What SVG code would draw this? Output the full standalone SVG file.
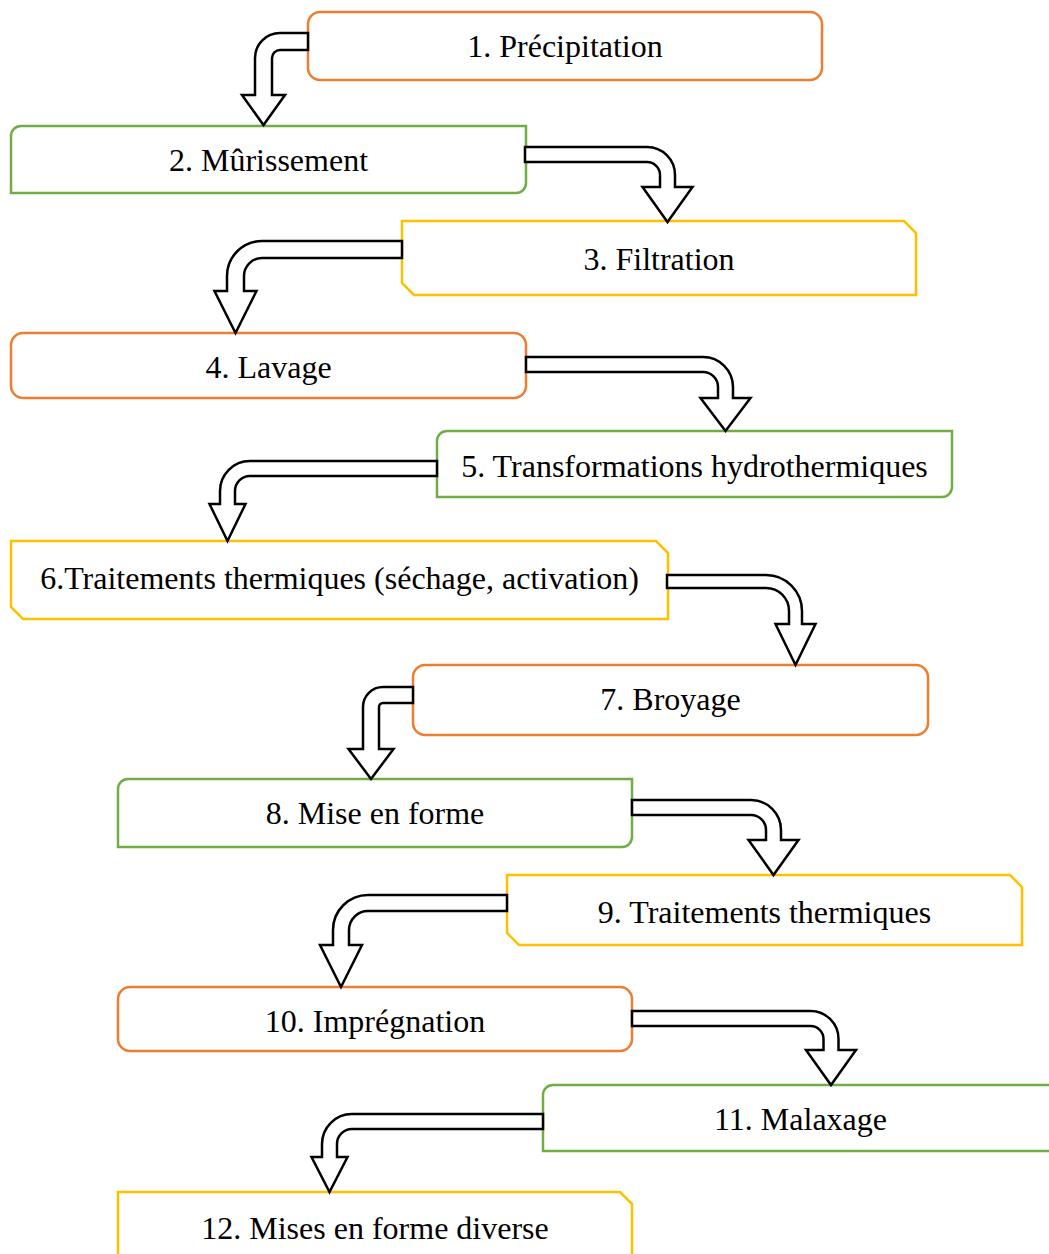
<svg xmlns="http://www.w3.org/2000/svg" width="1049" height="1254" viewBox="0 0 1049 1254">
<style>
.o{fill:#fff;stroke:#ED7D31;stroke-width:2.5}
.g{fill:#fff;stroke:#70AD47;stroke-width:2.5}
.y{fill:#fff;stroke:#FFC000;stroke-width:2.5}
.t{font-family:"Liberation Serif","Times New Roman",serif;font-size:32px;fill:#000;text-anchor:middle}
.a{fill:#fff;stroke:#000;stroke-width:2.5;stroke-linejoin:miter}
</style>
<rect width="1049" height="1254" fill="#fff"/>
<g id="n1"><rect class="o" x="308" y="12" width="514" height="68" rx="12"/><text class="t" x="565" y="57">1. Précipitation</text></g>
<g id="n2"><path class="g" d="M11,136 A10,10 0 0 1 21,126 L526,126 L526,183 A10,10 0 0 1 516,193 L11,193 Z"/><text class="t" x="268.5" y="171">2. Mûrissement</text></g>
<g id="n3"><path class="y" d="M402,221 L904,221 L916,233 L916,295 L414,295 L402,283 Z"/><text class="t" x="659" y="270">3. Filtration</text></g>
<g id="n4"><rect class="o" x="11" y="333" width="515" height="65" rx="12"/><text class="t" x="268.5" y="378">4. Lavage</text></g>
<g id="n5"><path class="g" d="M437,441 A10,10 0 0 1 447,431 L952,431 L952,487 A10,10 0 0 1 942,497 L437,497 Z"/><text class="t" x="694.5" y="477">5. Transformations hydrothermiques</text></g>
<g id="n6"><path class="y" d="M11,541 L656,541 L668,553 L668,619 L23,619 L11,607 Z"/><text class="t" x="339.5" y="589">6.Traitements thermiques (séchage, activation)</text></g>
<g id="n7"><rect class="o" x="413" y="665" width="515" height="70" rx="12"/><text class="t" x="670.5" y="710">7. Broyage</text></g>
<g id="n8"><path class="g" d="M118,789 A10,10 0 0 1 128,779 L632,779 L632,837 A10,10 0 0 1 622,847 L118,847 Z"/><text class="t" x="375" y="824">8. Mise en forme</text></g>
<g id="n9"><path class="y" d="M507,875 L1010,875 L1022,887 L1022,945 L519,945 L507,933 Z"/><text class="t" x="764.5" y="923">9. Traitements thermiques</text></g>
<g id="n10"><rect class="o" x="118" y="987" width="514" height="64" rx="12"/><text class="t" x="375" y="1032">10. Imprégnation</text></g>
<g id="n11"><path class="g" d="M543,1095 A10,10 0 0 1 553,1085 L1058,1085 L1058,1141 A10,10 0 0 1 1048,1151 L543,1151 Z"/><text class="t" x="800.5" y="1130">11. Malaxage</text></g>
<g id="n12"><path class="y" d="M118,1192 L620,1192 L632,1204 L632,1270 L130,1270 L118,1258 Z"/><text class="t" x="375" y="1239">12. Mises en forme diverse</text></g>
<g id="connectors">
<path class="a" d="M308,33 L280,33 A25,25 0 0 0 255,58 L255,95 L242,95 L263.5,125 L285,95 L272,95 L272,58 A8,8 0 0 1 280,50 L308,50 Z"/>
<path class="a" d="M525,147 L647,147 A28,28 0 0 1 675,175 L675,187 L692.5,187 L667.5,222 L642.5,187 L660,187 L660,175 A13,13 0 0 0 647,162 L525,162 Z"/>
<path class="a" d="M402,241 L262,241 A35,35 0 0 0 227,276 L227,291 L214.5,291 L235.5,333 L256.5,291 L244,291 L244,276 A18,18 0 0 1 262,258 L402,258 Z"/>
<path class="a" d="M526,357 L703,357 A30,30 0 0 1 733,387 L733,398 L750.5,398 L725.5,431 L700.5,398 L718,398 L718,387 A15,15 0 0 0 703,372 L526,372 Z"/>
<path class="a" d="M437,461 L250,461 A30,30 0 0 0 220,491 L220,504 L209.5,504 L227.5,541 L245.5,504 L235,504 L235,491 A15,15 0 0 1 250,476 L437,476 Z"/>
<path class="a" d="M667,575 L766,575 A36,36 0 0 1 802,611 L802,624 L815.5,624 L795.5,665 L775.5,624 L789,624 L789,611 A23,23 0 0 0 766,588 L667,588 Z"/>
<path class="a" d="M413,687 L383,687 A20,20 0 0 0 363,707 L363,749 L348.5,749 L371,779 L393.5,749 L379,749 L379,707 A4,4 0 0 1 383,703 L413,703 Z"/>
<path class="a" d="M632,800 L751,800 A30,30 0 0 1 781,830 L781,840 L798.5,840 L773.5,875 L748.5,840 L766,840 L766,830 A15,15 0 0 0 751,815 L632,815 Z"/>
<path class="a" d="M507,895 L368,895 A35,35 0 0 0 333,930 L333,945 L320,945 L341,987 L362,945 L349,945 L349,930 A19,19 0 0 1 368,911 L507,911 Z"/>
<path class="a" d="M632,1011 L810.5,1011 A28,28 0 0 1 838.5,1039 L838.5,1050 L856,1050 L831,1085 L806,1050 L823.5,1050 L823.5,1039 A13,13 0 0 0 810.5,1026 L632,1026 Z"/>
<path class="a" d="M543,1114 L352,1114 A30,30 0 0 0 322,1144 L322,1157 L311.5,1157 L329.5,1192 L347.5,1157 L337,1157 L337,1144 A15,15 0 0 1 352,1129 L543,1129 Z"/>
</g>
</svg>
